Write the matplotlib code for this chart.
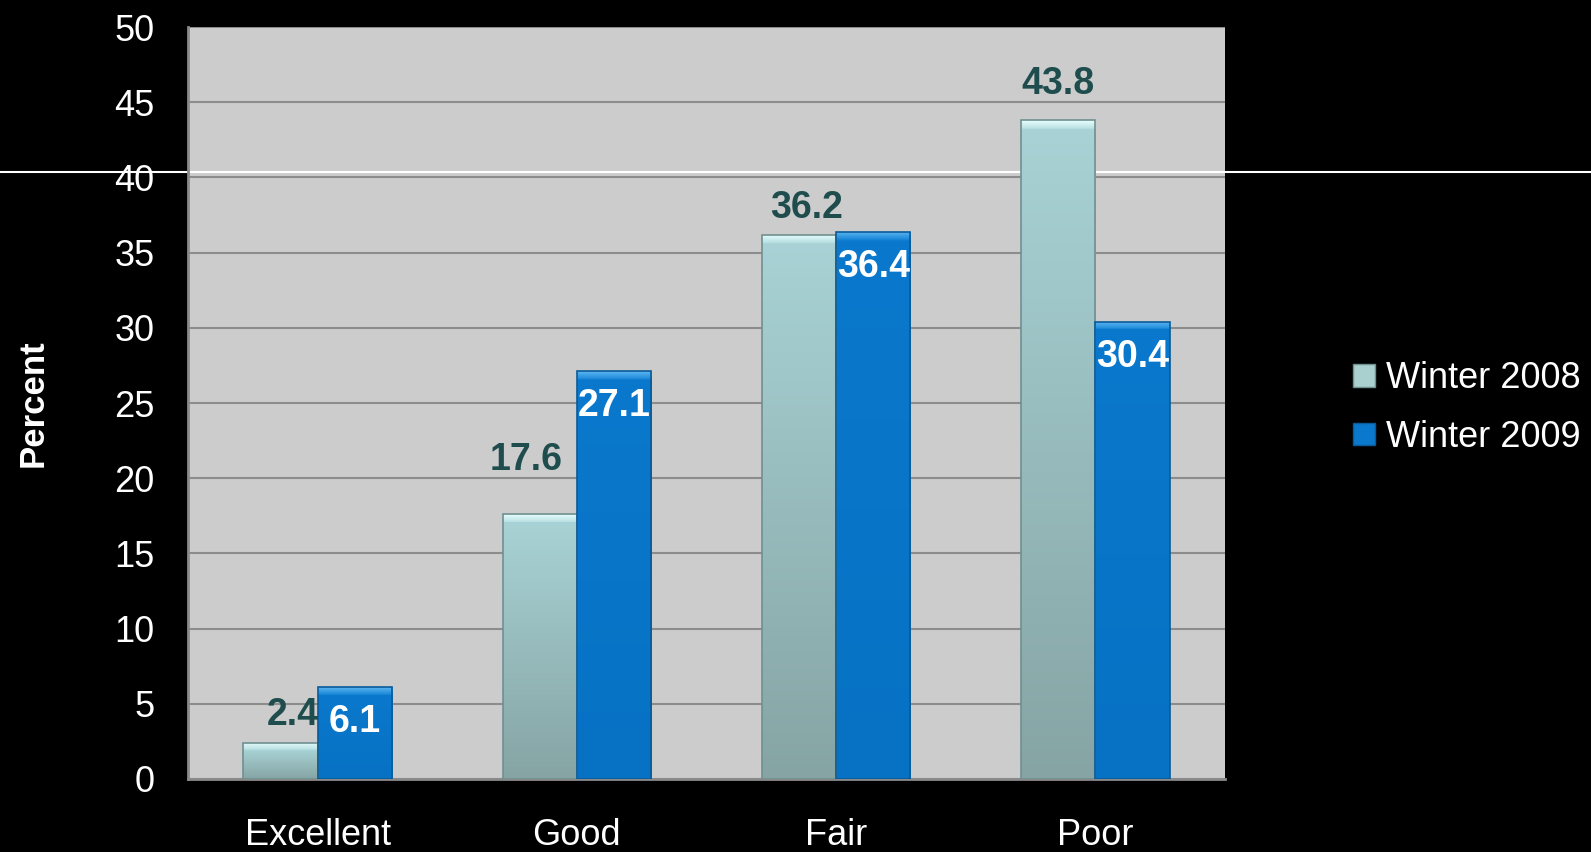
import numpy as np
import matplotlib
matplotlib.use("Agg")
import matplotlib.pyplot as plt
from matplotlib.lines import Line2D
from matplotlib.patches import Patch
from matplotlib.colors import to_rgb

# =====================================================
# Data
# =====================================================

categories = ["Excellent", "Good", "Fair", "Poor"]

series_names = ["Winter 2008", "Winter 2009"]

winter_2008 = [2.4, 17.6, 36.2, 43.8]

winter_2009 = [6.1, 27.1, 36.4, 30.4]

y_ticks = [0, 5, 10, 15, 20, 25, 30, 35, 40, 45, 50]

# =====================================================
# Style
# =====================================================

plt.rcParams["font.family"] = ["Liberation Sans", "DejaVu Sans"]

BG = "black"
PLOT_BG = "#cccccc"
GRID = "#8c8c8c"
COLOR_2008 = "#a8d2d5"
COLOR_2009 = "#0a78cc"
LABEL_2008 = "#1f4d4d"

BAR_W = 0.286

# pixel nudges for the 2008 value labels (dx, dy above bar top)
LABEL_NUDGE = [(12, 10), (-14, 36), (8, 9), (0, 18)]

# =====================================================
# Figure
# =====================================================

fig = plt.figure(figsize=(15.91, 8.52), dpi=100, facecolor=BG)

# stray white line across the slide
fig.add_artist(Line2D([0, 1], [1 - 172 / 852] * 2, color="white",
                      lw=1.5, zorder=-1, transform=fig.transFigure))

ax = fig.add_axes([188 / 1591, 1 - 779 / 852, 1037 / 1591, 752 / 852])
ax.set_facecolor(PLOT_BG)

x = np.arange(len(categories))


def shaded_bars(xpos, values, top_hi, top_lo, body_top, body_bot, edge):
    bars = ax.bar(xpos, values, width=BAR_W, facecolor="none",
                  edgecolor=edge, linewidth=1.2, zorder=4)
    for rect, v in zip(bars, values):
        n = 300
        t = np.linspace(0, v, n)  # distance from the top in data units
        hi = 0.5
        cols = np.zeros((n, 1, 3))
        c_hi0, c_hi1 = np.array(to_rgb(top_hi)), np.array(to_rgb(top_lo))
        c_b0, c_b1 = np.array(to_rgb(body_top)), np.array(to_rgb(body_bot))
        for i, ti in enumerate(t):
            if ti < hi:
                f = ti / hi
                cols[i, 0] = c_hi0 * (1 - f) + c_hi1 * f
            else:
                f = (ti - hi) / max(v - hi, 1e-6)
                cols[i, 0] = c_b0 * (1 - f) + c_b1 * f
        im = ax.imshow(cols, extent=[rect.get_x(), rect.get_x() + rect.get_width(), 0, v],
                       aspect="auto", zorder=3, interpolation="bilinear", origin="upper")
        im.set_clip_path(rect)
    return bars


bars08 = shaded_bars(x - BAR_W / 2, winter_2008, "#e6fcfc", "#b8e0e2",
                     COLOR_2008, "#86a4a4", "#6f9090")
bars09 = shaded_bars(x + BAR_W / 2, winter_2009, "#5ab4f0", "#1a88d8",
                     COLOR_2009, "#0772c4", "#0a5a98")

# =====================================================
# Value labels
# =====================================================

for rect, v, (dx, dy) in zip(bars08, winter_2008, LABEL_NUDGE):
    ax.annotate(f"{v}", (rect.get_x() + rect.get_width() / 2, v),
                xytext=(dx, dy), textcoords="offset pixels",
                ha="center", va="bottom", fontsize=27, fontweight="bold",
                color=LABEL_2008, zorder=6)

for rect, v in zip(bars09, winter_2009):
    ax.annotate(f"{v}", (rect.get_x() + rect.get_width() / 2, v),
                xytext=(0, -35), textcoords="offset pixels",
                ha="center", va="center", fontsize=27, fontweight="bold",
                color="white", zorder=6)

# =====================================================
# Axes
# =====================================================

ax.set_xlim(-0.5, len(categories) - 0.5)
ax.set_ylim(0, 50)
ax.set_yticks(y_ticks)
ax.set_xticks(x)
ax.set_xticklabels(categories)

ax.yaxis.grid(True, color=GRID, linewidth=1.5, zorder=1)
ax.set_axisbelow(True)
ax.axhline(40.33, color="white", lw=1.5, zorder=2)

ax.tick_params(axis="y", length=0, pad=24, labelsize=26, labelcolor="white")
ax.tick_params(axis="x", length=0, pad=28, labelsize=26, labelcolor="white")

for side in ["top", "right"]:
    ax.spines[side].set_visible(False)
for side in ["left", "bottom"]:
    ax.spines[side].set_color("#8a8a8a")
    ax.spines[side].set_linewidth(2)

ax.set_ylabel("Percent", fontsize=25, fontweight="bold", color="white")
ax.yaxis.set_label_coords(-0.133, 0.5)

# =====================================================
# Legend
# =====================================================

handles = [
    Patch(facecolor="#a9cfcf", edgecolor="#6f9090", label=series_names[0]),
    Patch(facecolor=COLOR_2009, edgecolor="#0a5a98", label=series_names[1]),
]

fig.legend(handles=handles, loc="center left",
           bbox_to_anchor=(1353 / 1591, 1 - 408 / 852),
           frameon=False, fontsize=26, labelcolor="white",
           borderpad=0, borderaxespad=0,
           handlelength=0.6, handleheight=0.6, handletextpad=0.3,
           labelspacing=0.65)

fig.savefig("out.png", dpi=100, facecolor=BG)
